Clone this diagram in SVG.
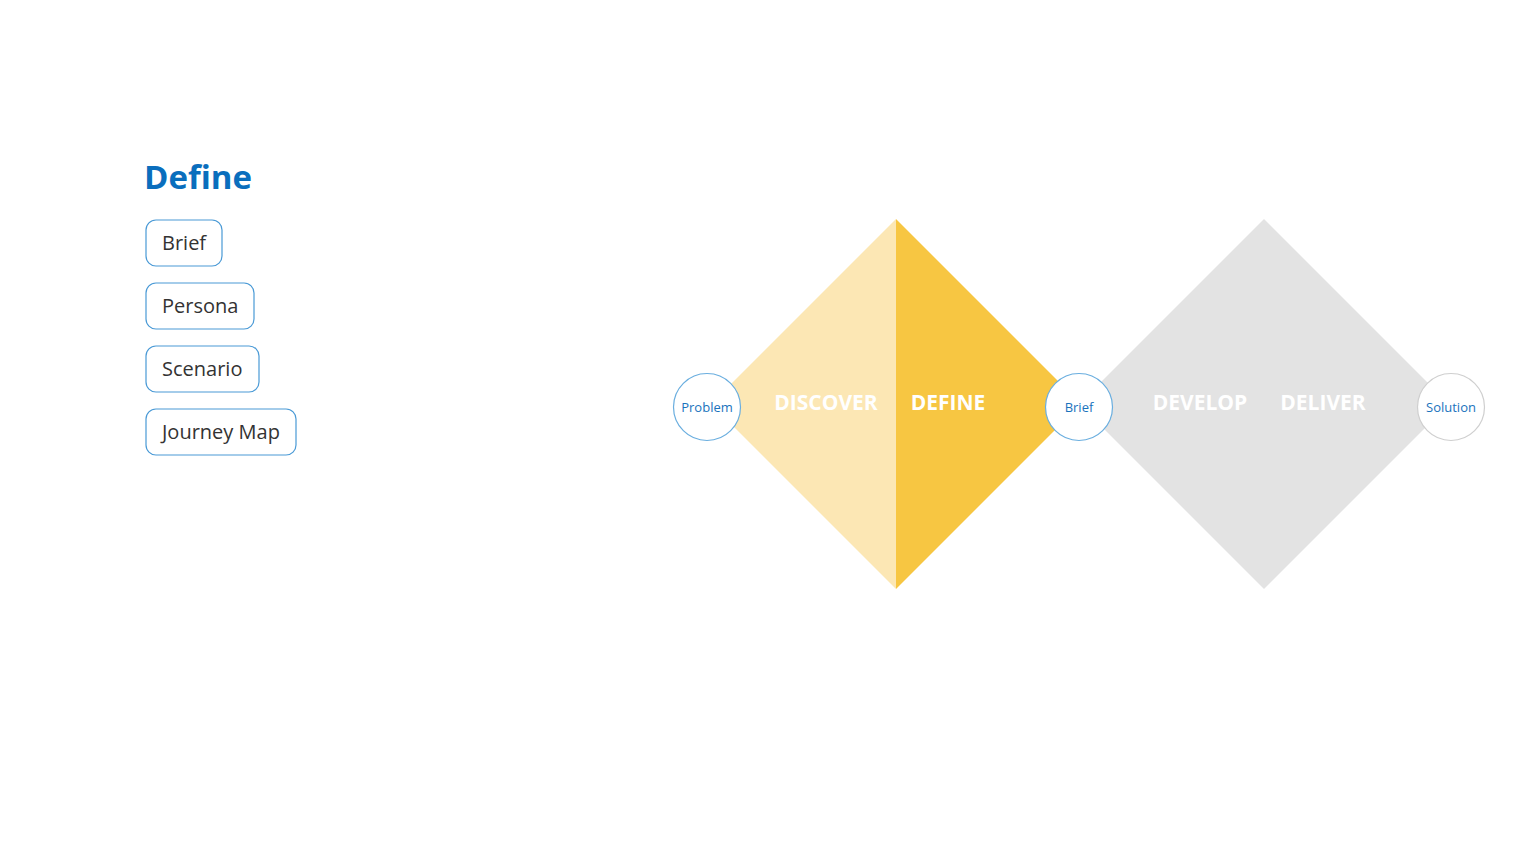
<svg xmlns="http://www.w3.org/2000/svg" width="1536" height="864" viewBox="0 0 1536 864">
<style>
.pill rect{fill:#fff;stroke:#4a9ad6;stroke-width:1.2}
.pill text{font-family:"Open Sans","Noto Sans",sans-serif;font-size:20px;fill:#333}
.phase{font-family:"Open Sans","Noto Sans",sans-serif;font-size:21px;font-weight:bold;fill:#fff;text-anchor:middle}
.ms circle{fill:#fff;stroke:#6aaedf;stroke-width:1.2}
.ms text{font-family:"Open Sans","Noto Sans",sans-serif;font-size:13px;fill:#1a73bd;text-anchor:middle}
</style>
<rect width="1536" height="864" fill="#fff"/>
<text x="144" y="189" font-family="Open Sans, Noto Sans, sans-serif" font-size="33" font-weight="bold" fill="#0a6ebd">Define</text>
<g id="pill-brief" class="pill"><rect x="146" y="220" width="76" height="46" rx="10"/><text x="162" y="250">Brief</text></g>
<g id="pill-persona" class="pill"><rect x="146" y="283" width="108" height="46" rx="10"/><text x="162" y="313">Persona</text></g>
<g id="pill-scenario" class="pill"><rect x="146" y="346" width="113" height="46" rx="10"/><text x="162" y="376">Scenario</text></g>
<g id="pill-journey" class="pill"><rect x="146" y="409" width="150" height="46" rx="10"/><text x="162" y="439">Journey Map</text></g>
<g id="diamond1">
<polygon points="896,219 711,404 896,589" fill="#fce7b4"/>
<polygon points="896,219 1081,404 896,589" fill="#f7c642"/>
<text class="phase" x="826" y="410">DISCOVER</text>
<text class="phase" x="948" y="410">DEFINE</text>
</g>
<g id="diamond2">
<polygon points="1264,219 1079,404 1264,589 1449,404" fill="#e3e3e3"/>
<text class="phase" x="1200" y="410">DEVELOP</text>
<text class="phase" x="1323" y="410">DELIVER</text>
</g>
<g id="connectors"></g>
<g id="ms-problem" class="ms"><circle cx="707" cy="407" r="33.5"/><text x="707" y="412">Problem</text></g>
<g id="ms-brief" class="ms"><circle cx="1079" cy="407" r="33.5"/><text x="1079" y="412">Brief</text></g>
<g id="ms-solution" class="ms"><circle cx="1451" cy="407" r="33.5" style="stroke:#cfcfcf"/><text x="1451" y="412">Solution</text></g>
</svg>
